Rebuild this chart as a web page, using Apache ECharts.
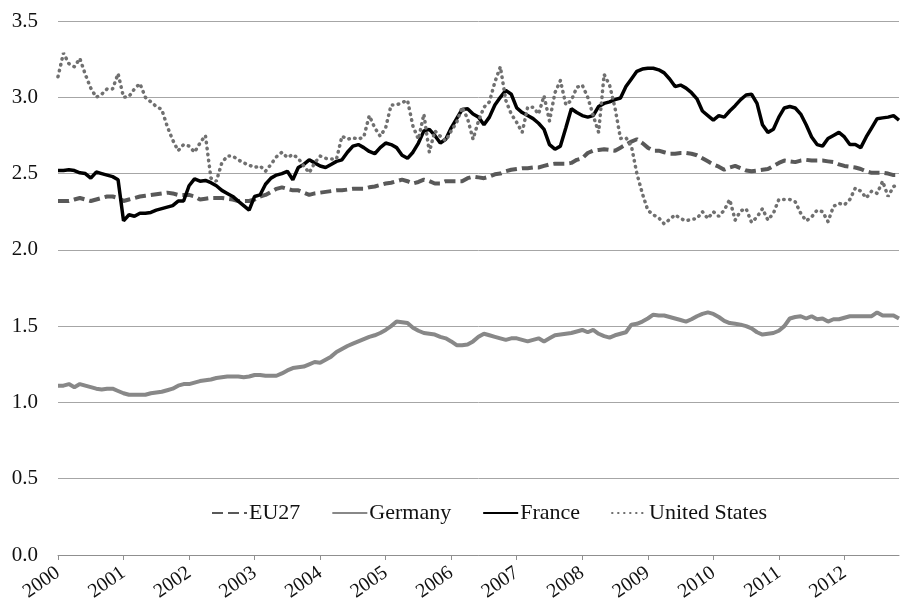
<!DOCTYPE html>
<html>
<head>
<meta charset="utf-8">
<script src="https://cdn.jsdelivr.net/npm/echarts@6/dist/echarts.min.js"></script>
<style>
  html, body { margin: 0; padding: 0; background: #ffffff; }
  #chart { width: 900px; height: 608px; }
</style>
</head>
<body>
<div id="chart"></div>
<script>
// year tick labels, data is monthly from Jan 2000 to Nov 2012
const years = ['2000', '2001', '2002', '2003', '2004', '2005', '2006', '2007', '2008', '2009', '2010', '2011', '2012']
const monthsInLastYear = 11
const yTicks = [0, 0.5, 1, 1.5, 2, 2.5, 3, 3.5]
const seriesNames = ['EU27', 'Germany', 'France', 'United States']

const eu27 = [
  2.32, 2.32, 2.32, 2.33, 2.34, 2.33, 2.32, 2.33, 2.34, 2.35, 2.35, 2.34,
  2.32, 2.33, 2.34, 2.35, 2.355, 2.36, 2.365, 2.37, 2.375, 2.37, 2.36, 2.36,
  2.36, 2.35, 2.33, 2.335, 2.34, 2.34, 2.34, 2.335, 2.33, 2.32, 2.32, 2.32,
  2.33, 2.35, 2.36, 2.38, 2.40, 2.41, 2.40, 2.39, 2.39, 2.375, 2.36, 2.37,
  2.375, 2.38, 2.385, 2.39, 2.39, 2.395, 2.40, 2.40, 2.40, 2.41, 2.415, 2.425,
  2.435, 2.44, 2.45, 2.46, 2.45, 2.435, 2.445, 2.46, 2.45, 2.435, 2.435, 2.45,
  2.45, 2.45, 2.45, 2.47, 2.48, 2.475, 2.47, 2.48, 2.495, 2.50, 2.515, 2.525,
  2.53, 2.535, 2.535, 2.54, 2.54, 2.55, 2.56, 2.565, 2.565, 2.565, 2.57, 2.59,
  2.60, 2.635, 2.65, 2.655, 2.66, 2.655, 2.65, 2.67, 2.69, 2.71, 2.725, 2.70,
  2.67, 2.65, 2.65, 2.64, 2.63, 2.63, 2.635, 2.635, 2.63, 2.62, 2.60, 2.58,
  2.56, 2.545, 2.525, 2.54, 2.55, 2.535, 2.52, 2.515, 2.52, 2.525, 2.53, 2.55,
  2.57, 2.585, 2.58, 2.575, 2.585, 2.59, 2.585, 2.585, 2.585, 2.58, 2.575, 2.56,
  2.55, 2.545, 2.54, 2.53, 2.515, 2.505, 2.505, 2.505, 2.50, 2.49, 2.49
]

const germany = [
  1.11, 1.11, 1.12, 1.10, 1.12, 1.11, 1.10, 1.09, 1.085, 1.09, 1.09, 1.075,
  1.06, 1.05, 1.05, 1.05, 1.05, 1.06, 1.065, 1.07, 1.08, 1.09, 1.11, 1.12,
  1.12, 1.13, 1.14, 1.145, 1.15, 1.16, 1.165, 1.17, 1.17, 1.17, 1.165, 1.17,
  1.18, 1.18, 1.175, 1.175, 1.175, 1.19, 1.21, 1.225, 1.23, 1.235, 1.25, 1.265,
  1.26, 1.28, 1.30, 1.33, 1.35, 1.37, 1.385, 1.40, 1.415, 1.43, 1.44, 1.455,
  1.475, 1.50, 1.53, 1.525, 1.52, 1.49, 1.47, 1.455, 1.45, 1.445, 1.43, 1.42,
  1.40, 1.375, 1.375, 1.38, 1.40, 1.43, 1.45, 1.44, 1.43, 1.42, 1.41, 1.42,
  1.42, 1.41, 1.40, 1.41, 1.42, 1.40, 1.42, 1.44, 1.445, 1.45, 1.455, 1.465,
  1.475, 1.46, 1.475, 1.45, 1.435, 1.425, 1.44, 1.45, 1.46, 1.51, 1.515, 1.53,
  1.55, 1.575, 1.57, 1.57, 1.56, 1.55, 1.54, 1.53, 1.545, 1.565, 1.58, 1.59,
  1.58, 1.56, 1.535, 1.52, 1.515, 1.51, 1.50, 1.485, 1.46, 1.445, 1.45, 1.455,
  1.47, 1.50, 1.55, 1.56, 1.565, 1.55, 1.565, 1.545, 1.55, 1.53, 1.545, 1.545,
  1.555, 1.565, 1.565, 1.565, 1.565, 1.565, 1.59, 1.57, 1.57, 1.57, 1.55
]

const france = [
  2.52, 2.52, 2.525, 2.52, 2.505, 2.50, 2.47, 2.51, 2.50, 2.49, 2.48, 2.46,
  2.19, 2.23, 2.22, 2.24, 2.24, 2.245, 2.26, 2.27, 2.28, 2.29, 2.32, 2.32,
  2.42, 2.465, 2.45, 2.455, 2.44, 2.42, 2.39, 2.37, 2.35, 2.32, 2.29, 2.26,
  2.35, 2.36, 2.43, 2.47, 2.49, 2.50, 2.515, 2.46, 2.54, 2.56, 2.59, 2.57,
  2.55, 2.54, 2.56, 2.58, 2.59, 2.64, 2.68, 2.69, 2.67, 2.645, 2.63, 2.67,
  2.70, 2.69, 2.67, 2.62, 2.60, 2.64, 2.70, 2.78, 2.79, 2.75, 2.70, 2.725,
  2.80, 2.86, 2.92, 2.925, 2.89, 2.87, 2.82, 2.87, 2.95, 3.00, 3.045, 3.02,
  2.93, 2.90, 2.88, 2.86, 2.83, 2.79, 2.69, 2.66, 2.68, 2.80, 2.925, 2.90,
  2.88, 2.87, 2.88, 2.94, 2.96, 2.97, 2.985, 2.995, 3.07, 3.12, 3.17, 3.185,
  3.19, 3.19, 3.18, 3.16, 3.12, 3.07, 3.08, 3.06, 3.03, 2.99, 2.91, 2.88,
  2.85, 2.88, 2.87, 2.91, 2.945, 2.985, 3.015, 3.02, 2.96, 2.82, 2.77, 2.79,
  2.87, 2.93, 2.94, 2.93, 2.89, 2.82, 2.74, 2.69, 2.68, 2.73, 2.75, 2.77,
  2.74, 2.69, 2.69, 2.67, 2.74, 2.80, 2.86, 2.865, 2.87, 2.88, 2.85
]

const unitedStates = [
  3.135, 3.29, 3.22, 3.20, 3.255, 3.15, 3.06, 3.00, 3.02, 3.055, 3.055, 3.155,
  3.00, 3.005, 3.055, 3.09, 3.00, 2.97, 2.94, 2.92, 2.81, 2.72, 2.65, 2.69,
  2.68, 2.64, 2.70, 2.75, 2.47, 2.45, 2.57, 2.615, 2.615, 2.59, 2.57, 2.555,
  2.54, 2.55, 2.515, 2.56, 2.61, 2.64, 2.605, 2.625, 2.60, 2.55, 2.505, 2.57,
  2.615, 2.60, 2.595, 2.595, 2.745, 2.725, 2.735, 2.725, 2.74, 2.88, 2.80, 2.745,
  2.80, 2.95, 2.95, 2.965, 2.98, 2.81, 2.725, 2.89, 2.64, 2.78, 2.745, 2.715,
  2.78, 2.835, 2.935, 2.86, 2.725, 2.845, 2.935, 2.97, 3.10, 3.20, 2.98, 2.89,
  2.835, 2.77, 2.935, 2.935, 2.89, 3.01, 2.845, 3.03, 3.11, 2.95, 2.98, 3.065,
  3.08, 3.00, 2.88, 2.77, 3.15, 3.08, 2.93, 2.73, 2.735, 2.68, 2.50, 2.37,
  2.26, 2.23, 2.21, 2.17, 2.20, 2.23, 2.205, 2.19, 2.20, 2.205, 2.25, 2.205,
  2.25, 2.22, 2.26, 2.33, 2.195, 2.255, 2.27, 2.18, 2.215, 2.27, 2.195, 2.24,
  2.33, 2.33, 2.33, 2.315, 2.24, 2.19, 2.215, 2.26, 2.25, 2.185, 2.285, 2.305,
  2.295, 2.33, 2.405, 2.385, 2.34, 2.385, 2.37, 2.45, 2.35, 2.415, 2.43
]

// monthly category list built from the year labels
const months = []
years.forEach(function (y, k) {
  const n = k === years.length - 1 ? monthsInLastYear : 12
  for (let m = 1; m <= n; m++) {
    months.push(y + '-' + (m < 10 ? '0' + m : m))
  }
})

const FONT = 'Liberation Serif'
const chart = echarts.init(document.getElementById('chart'), null, { renderer: 'canvas' })

function isJanuary(i) {
  return i % 12 === 0
}

chart.setOption({
  backgroundColor: '#ffffff',
  animation: false,
  grid: {
    left: 58,
    right: 1,
    top: 21,
    bottom: 53
  },
  legend: {
    data: seriesNames,
    left: 206,
    top: 497,
    itemWidth: 35,
    itemHeight: 14,
    itemGap: 31,
    // hide the symbol in the legend icon, keep only the line
    itemStyle: { opacity: 0 },
    textStyle: {
      fontFamily: FONT,
      fontSize: 22,
      color: '#111111',
      padding: [0, 0, 0, -3]
    }
  },
  xAxis: {
    type: 'category',
    data: months,
    boundaryGap: false,
    axisLine: { lineStyle: { color: '#8f8f8f', width: 1 } },
    axisTick: {
      show: true,
      interval: isJanuary,
      length: 5,
      lineStyle: { color: '#8f8f8f' }
    },
    axisLabel: {
      interval: isJanuary,
      rotate: 35,
      margin: 16,
      fontFamily: FONT,
      fontSize: 20,
      color: '#111111',
      formatter: function (v) { return v.slice(0, 4) }
    },
    splitLine: { show: false }
  },
  yAxis: {
    type: 'value',
    min: yTicks[0],
    max: yTicks[yTicks.length - 1],
    interval: 0.5,
    axisLine: { show: false },
    axisTick: { show: false },
    axisLabel: {
      margin: 20,
      fontFamily: FONT,
      fontSize: 21,
      color: '#111111',
      formatter: function (v) { return v.toFixed(1) }
    },
    splitLine: { lineStyle: { color: '#a6a6a6', width: 1 } }
  },
  series: [
    {
      name: 'EU27',
      type: 'line',
      data: eu27,
      symbol: 'none',
      color: '#595959',
      lineStyle: { color: '#595959', width: 4, type: [11, 5] }
    },
    {
      name: 'Germany',
      type: 'line',
      data: germany,
      symbol: 'none',
      color: '#888888',
      lineStyle: { color: '#888888', width: 4 }
    },
    {
      name: 'France',
      type: 'line',
      data: france,
      symbol: 'none',
      color: '#000000',
      lineStyle: { color: '#000000', width: 3.5 }
    },
    {
      name: 'United States',
      type: 'line',
      data: unitedStates,
      symbol: 'none',
      color: '#707070',
      lineStyle: { color: '#707070', width: 3.5, type: [0.5, 5.5], cap: 'round' }
    }
  ]
})
</script>
</body>
</html>
